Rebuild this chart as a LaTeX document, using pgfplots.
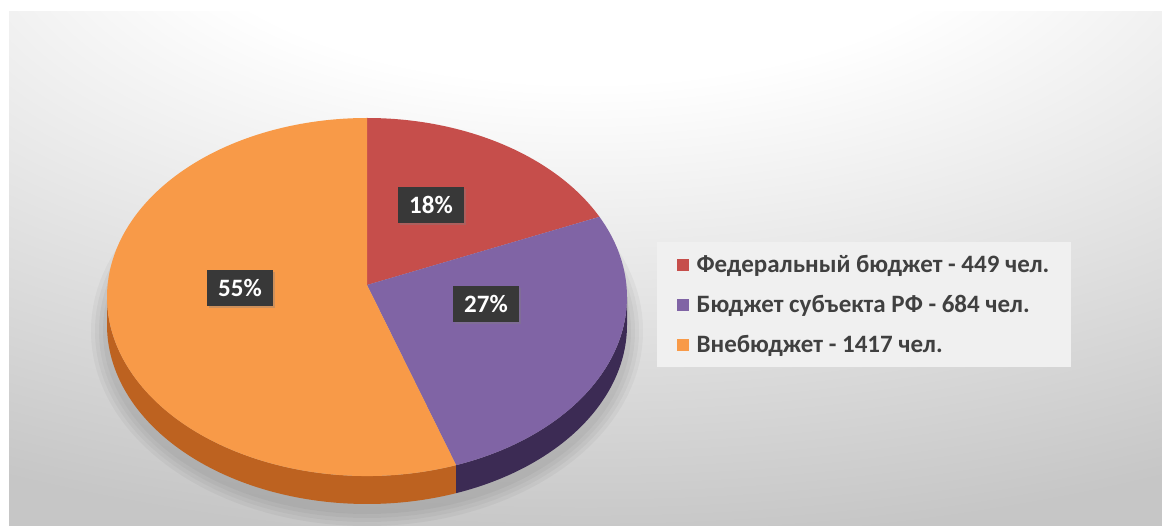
\documentclass[border=0pt]{standalone}
\usepackage{pgfplots}
\pgfplotsset{compat=1.18}
\usepackage{pgfplotstable}
\usepackage{fontspec}
\setmainfont{Carlito}
\usetikzlibrary{shadows}
\definecolor{cRed}{HTML}{C64E4B}
\definecolor{cPurple}{HTML}{8064A5}
\definecolor{cOrange}{HTML}{F89A48}
\definecolor{cOrangeSide}{HTML}{BD6220}
\definecolor{cPurpleSide}{HTML}{3C2B54}
\definecolor{labelbg}{HTML}{383838}
\definecolor{legtext}{HTML}{404040}
\definecolor{legbg}{HTML}{F0F0F0}
\definecolor{bggray}{HTML}{C6C6C6}
\pgfdeclareradialshading{bgshade}{\pgfpoint{0bp}{42bp}}{color(0bp)=(white); color(18bp)=(white); color(52bp)=(bggray); color(130bp)=(bggray)}
\pgfplotstableread{
name value
Fed 449
Sub 684
Vne 1417
}\piedata
\begin{document}
\begin{tikzpicture}
\pgfplotstablegetelem{0}{value}\of\piedata \edef\va{\pgfplotsretval}
\pgfplotstablegetelem{1}{value}\of\piedata \edef\vb{\pgfplotsretval}
\pgfplotstablegetelem{2}{value}\of\piedata \edef\vc{\pgfplotsretval}
\pgfmathsetmacro\tot{\va+\vb+\vc}
\pgfmathsetmacro\fa{\va/\tot}
\pgfmathsetmacro\fb{\vb/\tot}
\pgfmathsetmacro\aB{90-360*\fa}
\pgfmathsetmacro\aC{\aB-360*\fb}
\pgfmathsetmacro\aCp{\aC+360}
\def\cx{367}\def\cy{297}\def\rx{260}\def\ry{179}\def\px{367}\def\py{285}\def\dd{28}
\tikzset{labelbox/.style={fill=labelbg, text=white, font=\bfseries\fontsize{25}{30}\selectfont, minimum width=66pt, minimum height=36pt, inner sep=0pt, drop shadow={shadow xshift=2pt, shadow yshift=-2pt, opacity=0.35}},
  softsh/.style={fill=black, opacity=0.035}}
\begin{axis}[at={(0,0)}, anchor=south west, scale only axis, width=1162pt, height=525pt,
  xmin=0, xmax=1162, ymin=0, ymax=525, y dir=reverse, hide axis, clip=false,
  legend style={at={(axis description cs:0.5654,0.5390)}, anchor=north west, fill=legbg, draw=none,
    font=\bfseries\fontsize{25}{30}\selectfont\color{legtext}, inner xsep=20pt, inner ysep=11pt,
    row sep=17.5pt, /tikz/every odd column/.append style={column sep=6pt}},
  legend cell align=left]
\fill[white] (axis cs:0,0) rectangle (axis cs:1162,525);
\shade[shading=bgshade] (axis cs:9,12) rectangle (axis cs:1162,525);
% soft shadow
\fill[softsh] (axis cs:367,331) ellipse[x radius=264pt, y radius=183pt];
\fill[softsh] (axis cs:367,331) ellipse[x radius=268pt, y radius=187pt];
\fill[softsh] (axis cs:367,331) ellipse[x radius=272pt, y radius=191pt];
\fill[softsh] (axis cs:367,331) ellipse[x radius=276pt, y radius=195pt];
% sides
\fill[cOrangeSide] (axis cs:{\cx+\rx*cos(180)},{\cy-\ry*sin(180)}) arc[start angle=180, end angle=\aCp, x radius=\rx pt, y radius=\ry pt] -- ++(0,-\dd pt) arc[start angle=\aCp, end angle=180, x radius=\rx pt, y radius=\ry pt] -- cycle;
\fill[cPurpleSide] (axis cs:{\cx+\rx*cos(\aCp)},{\cy-\ry*sin(\aCp)}) arc[start angle=\aCp, end angle=360, x radius=\rx pt, y radius=\ry pt] -- ++(0,-\dd pt) arc[start angle=360, end angle=\aCp, x radius=\rx pt, y radius=\ry pt] -- cycle;
% top
\fill[cRed] (axis cs:\px,\py) -- (axis cs:{\cx+\rx*cos(90)},{\cy-\ry*sin(90)}) arc[start angle=90, end angle=\aB, x radius=\rx pt, y radius=\ry pt] -- cycle;
\fill[cPurple] (axis cs:\px,\py) -- (axis cs:{\cx+\rx*cos(\aB)},{\cy-\ry*sin(\aB)}) arc[start angle=\aB, end angle=\aC, x radius=\rx pt, y radius=\ry pt] -- cycle;
\fill[cOrange] (axis cs:\px,\py) -- (axis cs:{\cx+\rx*cos(\aC)},{\cy-\ry*sin(\aC)}) arc[start angle=\aC, end angle=-270, x radius=\rx pt, y radius=\ry pt] -- cycle;
\node[labelbox] at (axis cs:431,205) {18\%};
\node[labelbox] at (axis cs:486,304) {27\%};
\node[labelbox] at (axis cs:240,288) {55\%};
\addlegendimage{legend image code/.code={\fill[cRed] (0pt,-5.5pt) rectangle (11pt,5.5pt);}}
\addlegendentry{Федеральный бюджет - 449 чел.}
\addlegendimage{legend image code/.code={\fill[cPurple] (0pt,-5.5pt) rectangle (11pt,5.5pt);}}
\addlegendentry{Бюджет субъекта РФ - 684 чел.}
\addlegendimage{legend image code/.code={\fill[cOrange] (0pt,-5.5pt) rectangle (11pt,5.5pt);}}
\addlegendentry{Внебюджет - 1417 чел.}
\end{axis}
\end{tikzpicture}
\end{document}
